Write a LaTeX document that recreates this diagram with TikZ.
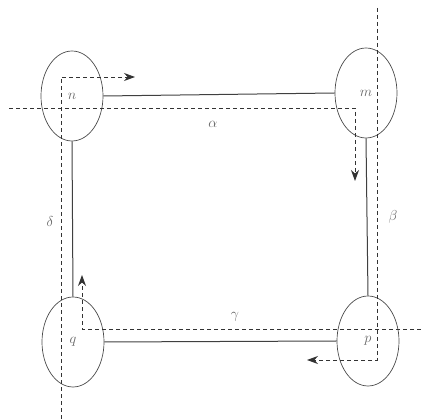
\documentclass[tikz,border=0pt]{standalone}
\usetikzlibrary{shapes.geometric,arrows.meta}
\begin{document}
\begin{tikzpicture}[x=1pt,y=-1pt,
  vert/.style={draw=black!70,ellipse,minimum width=62pt,minimum height=90pt,inner sep=0pt,line width=0.7pt,text=black!60,font=\fontsize{15}{17}\selectfont},
  edge/.style={draw=black!75,line width=1pt},
  walk/.style={draw=black!80,line width=0.8pt,dash pattern=on 4pt off 3pt,-{Stealth[length=11pt,width=8pt]}},
  lab/.style={text=black!60,font=\fontsize{15}{17}\selectfont}]
\useasboundingbox (0,0) rectangle (421,419);
\node[vert] (n) at (72,96) {$n$};
\node[vert] (m) at (366,93) {$m$};
\node[vert] (q) at (73,342) {$q$};
\node[vert] (p) at (368,341) {$p$};
\draw[edge] (n.east) -- (m.west);
\draw[edge] (m.south) -- (p.north);
\draw[edge] (q.east) -- (p.west);
\draw[edge] (n.south) -- (q.north);
% dashed walks
\coordinate (a0) at (9,108); \coordinate (a1) at (355,108); \coordinate (a2) at (355,181);
\coordinate (b0) at (377,8); \coordinate (b1) at (377,360); \coordinate (b2) at (307,360);
\coordinate (c0) at (421,329); \coordinate (c1) at (82,329); \coordinate (c2) at (82,275);
\coordinate (d0) at (61,419); \coordinate (d1) at (61,77); \coordinate (d2) at (135,77);
\draw[walk] (a0) -- (a1) -- (a2);
\draw[walk] (b0) -- (b1) -- (b2);
\draw[walk] (c0) -- (c1) -- (c2);
\draw[walk] (d0) -- (d1) -- (d2);
\node[lab] (al) at (213,124) {$\alpha$};
\node[lab] (be) at (393,217) {$\beta$};
\node[lab] (ga) at (235,317) {$\gamma$};
\node[lab] (de) at (50,222) {$\delta$};
\end{tikzpicture}
\end{document}
